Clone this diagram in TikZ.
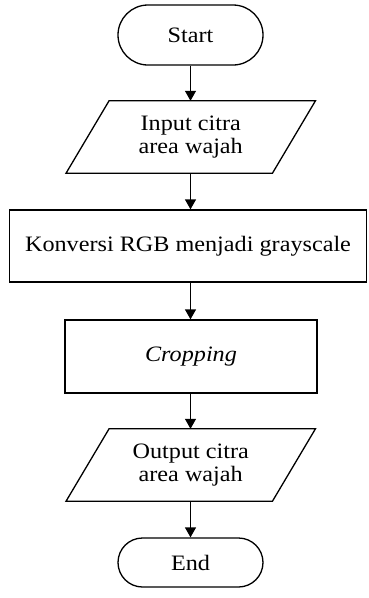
\documentclass[tikz,border=0pt]{standalone}
\usepackage{fontspec}
\setmainfont[FakeStretch=1.1]{Liberation Serif}
\usetikzlibrary{arrows.meta}
\begin{document}
\begin{tikzpicture}[x=1pt,y=-1pt,
  line/.style={line width=1.3pt},
  arr/.style={line, -{Triangle[width=11pt,length=10pt]}},
  lbl/.style={font=\fontsize{22}{23.5}\selectfont, align=center, inner sep=0pt},
  term/.style={lbl, draw, line, minimum width=145pt},
  proc/.style={lbl, draw, line},
  io/.style={lbl, minimum width=206pt, minimum height=72pt}
]
\useasboundingbox (0,0) rectangle (368,598);
\node[term, minimum height=60pt, rounded corners=30pt] (start) at (190.5,35) {Start};
\node[io] (in) at (190.75,137) {Input citra\\area wajah};
\draw[line] ([xshift=21.5pt]in.north west) -- ([xshift=21.5pt]in.north east)
  -- ([xshift=-21.5pt]in.south east) -- ([xshift=-21.5pt]in.south west) -- cycle;
\node[proc, minimum width=357pt, minimum height=72pt] (conv) at (188,246) {Konversi RGB menjadi grayscale};
\node[proc, minimum width=252pt, minimum height=73pt] (crop) at (191,356.5) {\itshape Cropping};
\node[io] (out) at (190.75,465) {Output citra\\area wajah};
\draw[line] ([xshift=21.5pt]out.north west) -- ([xshift=21.5pt]out.north east)
  -- ([xshift=-21.5pt]out.south east) -- ([xshift=-21.5pt]out.south west) -- cycle;
\node[term, minimum height=49pt, rounded corners=24.5pt] (end) at (190.5,562.5) {End};
\draw[arr] (start.south) -- (start.south |- in.north);
\draw[arr] (start.south |- in.south) -- (start.south |- conv.north);
\draw[arr] (start.south |- conv.south) -- (start.south |- crop.north);
\draw[arr] (start.south |- crop.south) -- (start.south |- out.north);
\draw[arr] (start.south |- out.south) -- (end.north);
\end{tikzpicture}
\end{document}
